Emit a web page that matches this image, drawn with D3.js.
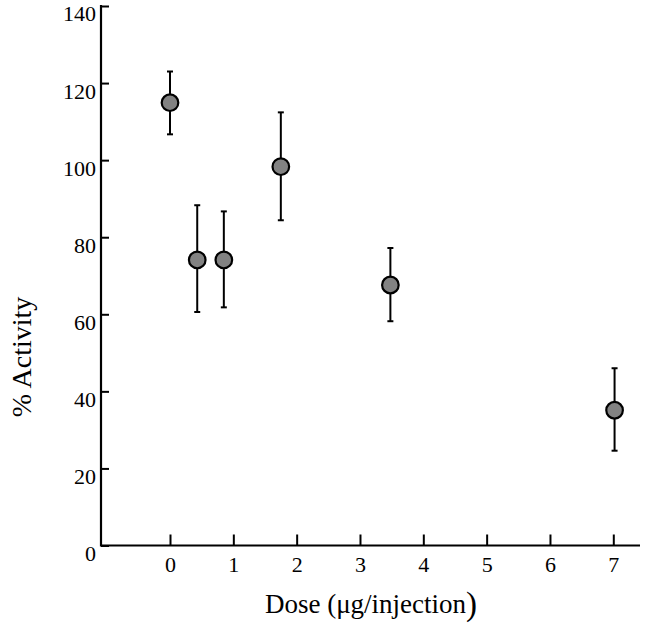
<!DOCTYPE html>
<html>
<head>
<meta charset="utf-8">
<script src="https://cdn.jsdelivr.net/npm/d3@7"></script>
<style>
  html, body { margin: 0; padding: 0; background: #fff; }
  svg { display: block; }
  text { font-family: "Liberation Serif", "Times New Roman", serif; fill: #000; }
</style>
</head>
<body>
<svg id="chart" width="646" height="627"></svg>
<script>
// Data
const doses = [0, 0.43, 0.85, 1.75, 3.48, 7.02];
const activity = [114.9, 74.1, 74.1, 98.3, 67.6, 35.1];
const errorUp = [123.0, 88.3, 86.7, 112.4, 77.2, 46.0];
const errorLow = [106.7, 60.6, 61.8, 84.4, 58.2, 24.6];
const xTicks = [0, 1, 2, 3, 4, 5, 6, 7];
const yTicks = [0, 20, 40, 60, 80, 100, 120, 140];
const xTitle = "Dose (\u03bcg/injection";
const xTitleClose = ")";
const yTitle = "% Activity";

const svg = d3.select("#chart");
const x = d3.scaleLinear().domain([0, 7]).range([170, 613.3]);
const y = d3.scaleLinear().domain([0, 140]).range([545.5, 6]);
const axisLeftX = 101;
const axisRightEnd = 640;

// X axis
const gx = svg.append("g").attr("transform", `translate(0,${y(0)})`)
  .call(d3.axisBottom(x).tickValues(xTicks).tickSize(-11).tickFormat(d3.format("d")));
gx.select(".domain").remove();
gx.selectAll(".tick line").attr("stroke", "#000").attr("stroke-width", 2);
gx.selectAll(".tick text")
  .attr("y", 26).attr("dy", null)
  .style("font-size", "22px").style("font-family", '"Liberation Serif", serif');
gx.append("line").attr("x1", axisLeftX).attr("x2", axisRightEnd)
  .attr("y1", 0).attr("y2", 0).attr("stroke", "#000").attr("stroke-width", 2.2);

// Y axis
const gy = svg.append("g").attr("transform", `translate(${axisLeftX},0)`)
  .call(d3.axisLeft(y).tickValues(yTicks).tickSize(-8).tickPadding(5).tickFormat(d3.format("d")));
gy.select(".domain").remove();
gy.selectAll(".tick line").attr("stroke", "#000").attr("stroke-width", 2);
gy.selectAll(".tick text")
  .attr("dy", "0.68em")
  .style("font-size", "22px").style("font-family", '"Liberation Serif", serif');
gy.append("line").attr("x1", 0).attr("x2", 0)
  .attr("y1", y(0) + 1).attr("y2", y(140) - 1).attr("stroke", "#000").attr("stroke-width", 2.2);

// Error bars
const pts = doses.map((d, i) => ({ d, v: activity[i], hi: errorUp[i], lo: errorLow[i] }));
const eb = svg.append("g");
eb.selectAll("line.v").data(pts).join("line").attr("class", "v")
  .attr("x1", p => x(p.d)).attr("x2", p => x(p.d))
  .attr("y1", p => y(p.hi)).attr("y2", p => y(p.lo))
  .attr("stroke", "#000").attr("stroke-width", 2);
eb.selectAll("line.ct").data(pts).join("line").attr("class", "ct")
  .attr("x1", p => x(p.d) - 3).attr("x2", p => x(p.d) + 3)
  .attr("y1", p => y(p.hi)).attr("y2", p => y(p.hi))
  .attr("stroke", "#000").attr("stroke-width", 2);
eb.selectAll("line.cb").data(pts).join("line").attr("class", "cb")
  .attr("x1", p => x(p.d) - 3).attr("x2", p => x(p.d) + 3)
  .attr("y1", p => y(p.lo)).attr("y2", p => y(p.lo))
  .attr("stroke", "#000").attr("stroke-width", 2);

// Points
svg.append("g").selectAll("circle").data(pts).join("circle")
  .attr("cx", p => x(p.d)).attr("cy", p => y(p.v)).attr("r", 8.3)
  .attr("fill", "#828282").attr("stroke", "#000").attr("stroke-width", 2.2);

// Titles
const xt = svg.append("text").attr("x", 371).attr("y", 613)
  .attr("text-anchor", "middle").style("font-size", "27px");
xt.append("tspan").text(xTitle);
xt.append("tspan").style("font-size", "33px").attr("dy", 2).text(xTitleClose);

svg.append("text")
  .attr("transform", `translate(31,357) rotate(-90)`)
  .attr("text-anchor", "middle").style("font-size", "28px")
  .text(yTitle);
</script>
</body>
</html>
